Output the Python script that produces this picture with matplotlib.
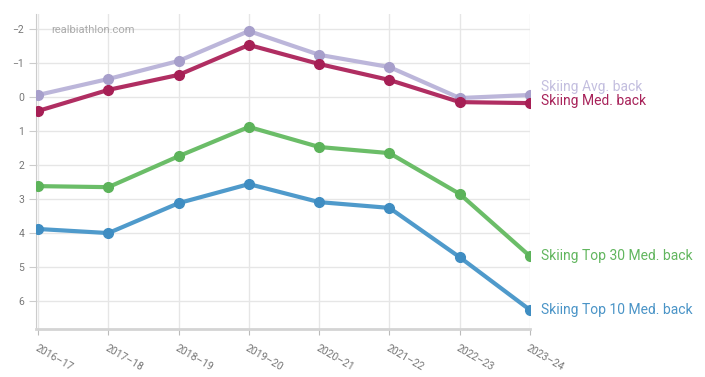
import matplotlib
matplotlib.use("Agg")
import matplotlib.pyplot as plt

plt.rcParams['font.family'] = ['Roboto', 'DejaVu Sans']

seasons = ["2016–17", "2017–18", "2018–19", "2019–20", "2020–21", "2021–22", "2022–23", "2023–24"]

avg_back = [-0.06, -0.53, -1.06, -1.94, -1.24, -0.88, 0.03, -0.06]
med_back = [0.41, -0.21, -0.65, -1.53, -0.97, -0.50, 0.15, 0.18]
top30_back = [2.62, 2.65, 1.74, 0.88, 1.47, 1.65, 2.85, 4.68]
top10_back = [3.88, 4.00, 3.12, 2.56, 3.09, 3.26, 4.71, 6.26]

# label nudges (in data units) so the two close end labels don't collide
series = [
    ("Skiing Avg. back", avg_back, "#bcb6da", "#a79fcb", "#c3bedf", -0.24),
    ("Skiing Med. back", med_back, "#b02e62", "#a61f55", "#a8235a", -0.06),
    ("Skiing Top 30 Med. back", top30_back, "#6bbd68", "#5cb35a", "#62b65f", 0.0),
    ("Skiing Top 10 Med. back", top10_back, "#4f9acb", "#3f8dc2", "#4a94c7", 0.0),
]

fig = plt.figure(figsize=(7.05, 3.77), dpi=100)
ax = fig.add_axes([36 / 705, 1 - 329 / 377, 494 / 705, 315 / 377])

x = list(range(len(seasons)))
for name, vals, lc, mc, tc, dy in series:
    ax.plot(x, vals, color=lc, lw=3, marker="o", ms=7,
            markerfacecolor=mc, markeredgecolor=mc, solid_capstyle="round", zorder=3)
    ax.text(x[-1] + 0.16, vals[-1] + dy, name, color=tc, fontsize=10,
            va="center", ha="left", clip_on=False)

ax.set_xlim(-0.03, 7)
ax.set_ylim(6.82, -2.44)
ax.set_yticks(range(-2, 7))
ax.set_xticks(x)
ax.set_xticklabels(seasons, rotation=-30, ha="left", va="top",
                   rotation_mode="anchor", fontsize=7.5, color="#777777")
ax.tick_params(axis="y", labelsize=7.5, labelcolor="#777777", color="#cccccc", length=5)
ax.tick_params(axis="x", color="#bbbbbb", length=4, pad=6)

ax.grid(True, color="#e6e6e6", lw=1)
ax.set_axisbelow(True)
for s in ["top", "right"]:
    ax.spines[s].set_visible(False)
ax.spines["left"].set_color("#cccccc")
ax.spines["bottom"].set_color("#d4d4d4")
ax.spines["bottom"].set_linewidth(2)

ax.text(0.03, 0.965, "realbiathlon.com", transform=ax.transAxes,
        fontsize=8, color="#aaaaaa", va="top", ha="left")

fig.savefig("out.png", dpi=100)
